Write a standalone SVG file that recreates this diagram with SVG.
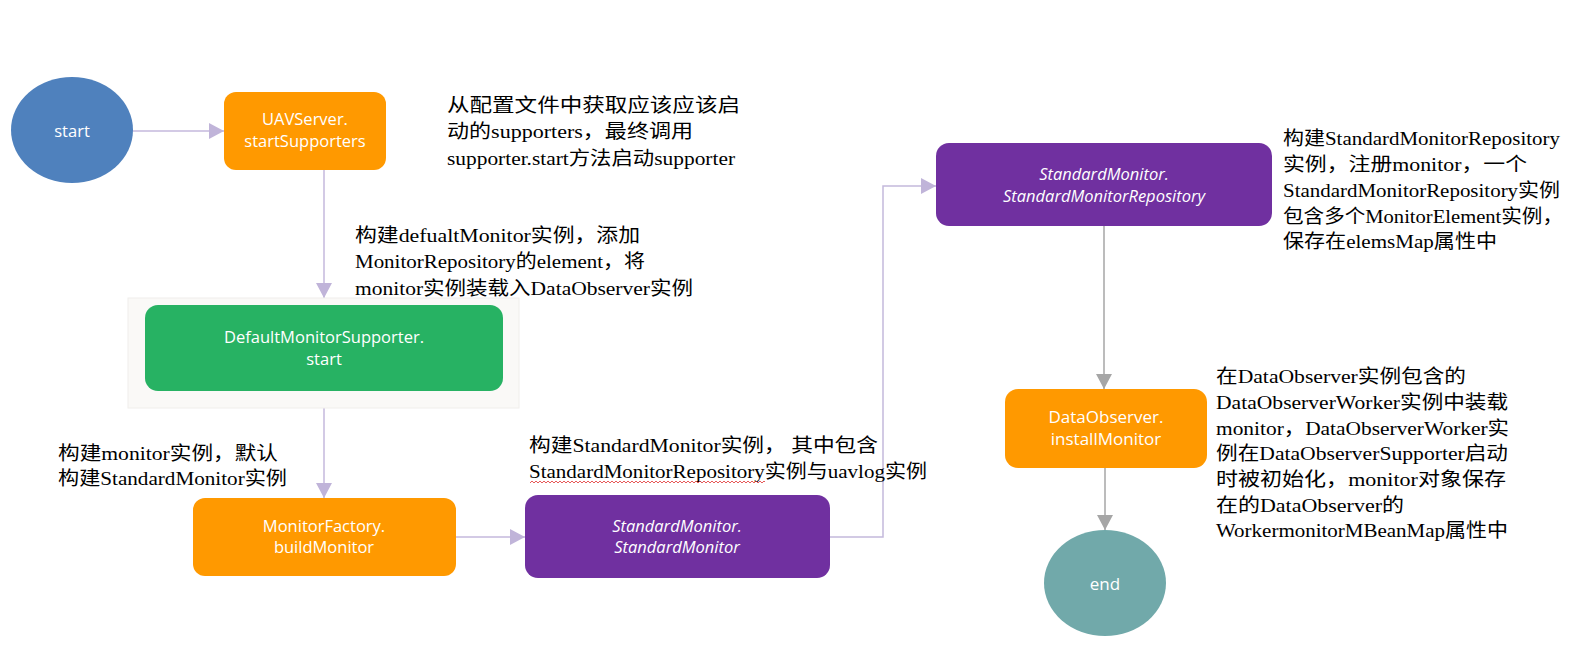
<svg xmlns="http://www.w3.org/2000/svg" width="1570" height="656" viewBox="0 0 1570 656">
<defs>
<style>
.node{font-family:"Open Sans","Liberation Sans",sans-serif;font-size:16.5px;fill:#ffffff;text-anchor:middle}
.it{font-style:italic}
.lbl{font-family:"Liberation Serif","Noto Sans CJK SC",serif;font-size:19px;fill:#000000}
.cp{fill:none;stroke:#c4b9dc;stroke-width:1.5}
.cg{fill:none;stroke:#a6a6a6;stroke-width:1.5}
</style>
<marker id="ap" markerUnits="userSpaceOnUse" markerWidth="16" markerHeight="16" refX="15" refY="8" orient="auto">
<path d="M0,0 L15,8 L0,16 Z" fill="#c0b4d9"/>
</marker>
<marker id="ag" markerUnits="userSpaceOnUse" markerWidth="16" markerHeight="16" refX="15" refY="8" orient="auto">
<path d="M0,0 L15,8 L0,16 Z" fill="#a6a6a6"/>
</marker>
<pattern id="wavy" x="530" y="480" width="4" height="4" patternUnits="userSpaceOnUse">
<polyline points="0,3 2,1 4,3" fill="none" stroke="#e03030" stroke-width="0.8"/>
</pattern>
</defs>
<rect width="1570" height="656" fill="#ffffff"/>

<g id="connectors">
<line class="cp" x1="133" y1="131" x2="224" y2="131" marker-end="url(#ap)"/>
<line class="cp" x1="324" y1="170" x2="324" y2="298" marker-end="url(#ap)"/>
<line class="cp" x1="324" y1="408" x2="324" y2="498" marker-end="url(#ap)"/>
<line class="cp" x1="456" y1="537" x2="525" y2="537" marker-end="url(#ap)"/>
<polyline class="cp" points="830,537 883,537 883,186 936,186" marker-end="url(#ap)"/>
<line class="cg" x1="1104" y1="226" x2="1104" y2="389" marker-end="url(#ag)"/>
<line class="cg" x1="1105" y1="468" x2="1105" y2="530" marker-end="url(#ag)"/>
</g>

<g id="start">
<ellipse cx="72" cy="130" rx="61" ry="53" fill="#4f81bd"/>
<text class="node" x="72" y="137">start</text>
</g>

<g id="uavserver">
<rect x="224" y="92" width="162" height="78" rx="12" fill="#ff9900"/>
<text class="node" x="305" y="125">UAVServer.</text>
<text class="node" x="305" y="147">startSupporters</text>
</g>

<g id="default-container">
<rect x="128" y="298" width="391" height="110" fill="#faf9f7" stroke="#f0eeeb" stroke-width="1"/>
</g>

<g id="defaultmonitorsupporter">
<rect x="145" y="305" width="358" height="86" rx="13" fill="#27b263"/>
<text class="node" x="324" y="343">DefaultMonitorSupporter.</text>
<text class="node" x="324" y="365">start</text>
</g>

<g id="monitorfactory">
<rect x="193" y="498" width="263" height="78" rx="12" fill="#ff9900"/>
<text class="node" x="324" y="532">MonitorFactory.</text>
<text class="node" x="324" y="553">buildMonitor</text>
</g>

<g id="standardmonitor">
<rect x="525" y="495" width="305" height="83" rx="13" fill="#7030a0"/>
<text class="node it" x="677" y="532">StandardMonitor.</text>
<text class="node it" x="677" y="553">StandardMonitor</text>
</g>

<g id="standardmonitorrepository">
<rect x="936" y="143" width="336" height="83" rx="13" fill="#7030a0"/>
<text class="node it" x="1104" y="180">StandardMonitor.</text>
<text class="node it" x="1104" y="202">StandardMonitorRepository</text>
</g>

<g id="dataobserver">
<rect x="1005" y="389" width="202" height="79" rx="13" fill="#ff9900"/>
<text class="node" x="1106" y="423" style="font-size:17px">DataObserver.</text>
<text class="node" x="1106" y="445" style="font-size:17px">installMonitor</text>
</g>

<g id="end">
<ellipse cx="1105" cy="583" rx="61" ry="53" fill="#71a9aa"/>
<text class="node" x="1105" y="590" style="font-size:17px">end</text>
</g>

<g id="label-uavserver">
<text class="lbl" x="447" y="112" textLength="293" lengthAdjust="spacingAndGlyphs">从配置文件中获取应该应该启</text>
<text class="lbl" x="447" y="138" textLength="246" lengthAdjust="spacingAndGlyphs">动的supporters，最终调用</text>
<text class="lbl" x="447" y="165" textLength="288" lengthAdjust="spacingAndGlyphs">supporter.start方法启动supporter</text>
</g>

<g id="label-default">
<text class="lbl" x="355" y="242" textLength="285" lengthAdjust="spacingAndGlyphs">构建defualtMonitor实例，添加</text>
<text class="lbl" x="355" y="268" textLength="290" lengthAdjust="spacingAndGlyphs">MonitorRepository的element，将</text>
<text class="lbl" x="355" y="295" textLength="338" lengthAdjust="spacingAndGlyphs">monitor实例装载入DataObserver实例</text>
</g>

<g id="label-monitorfactory">
<text class="lbl" x="58" y="460" textLength="220" lengthAdjust="spacingAndGlyphs">构建monitor实例，默认</text>
<text class="lbl" x="58" y="485" textLength="229" lengthAdjust="spacingAndGlyphs">构建StandardMonitor实例</text>
</g>

<g id="label-standardmonitor">
<text class="lbl" x="529" y="452" textLength="349" lengthAdjust="spacingAndGlyphs">构建StandardMonitor实例， 其中包含</text>
<text class="lbl" x="529" y="478" textLength="398" lengthAdjust="spacingAndGlyphs">StandardMonitorRepository实例与uavlog实例</text>
<rect x="530" y="480" width="235" height="4" fill="url(#wavy)"/>
</g>

<g id="label-repository">
<text class="lbl" x="1283" y="145" textLength="277" lengthAdjust="spacingAndGlyphs">构建StandardMonitorRepository</text>
<text class="lbl" x="1283" y="171" textLength="244" lengthAdjust="spacingAndGlyphs">实例，注册monitor，一个</text>
<text class="lbl" x="1283" y="197" textLength="277" lengthAdjust="spacingAndGlyphs">StandardMonitorRepository实例</text>
<text class="lbl" x="1283" y="223" textLength="280" lengthAdjust="spacingAndGlyphs">包含多个MonitorElement实例，</text>
<text class="lbl" x="1283" y="248" textLength="214" lengthAdjust="spacingAndGlyphs">保存在elemsMap属性中</text>
</g>

<g id="label-dataobserver">
<text class="lbl" x="1216" y="383" textLength="250" lengthAdjust="spacingAndGlyphs">在DataObserver实例包含的</text>
<text class="lbl" x="1216" y="409" textLength="292" lengthAdjust="spacingAndGlyphs">DataObserverWorker实例中装载</text>
<text class="lbl" x="1216" y="435" textLength="293" lengthAdjust="spacingAndGlyphs">monitor，DataObserverWorker实</text>
<text class="lbl" x="1216" y="460" textLength="292" lengthAdjust="spacingAndGlyphs">例在DataObserverSupporter启动</text>
<text class="lbl" x="1216" y="486" textLength="290" lengthAdjust="spacingAndGlyphs">时被初始化，monitor对象保存</text>
<text class="lbl" x="1216" y="512" textLength="188" lengthAdjust="spacingAndGlyphs">在的DataObserver的</text>
<text class="lbl" x="1216" y="537" textLength="292" lengthAdjust="spacingAndGlyphs">WorkermonitorMBeanMap属性中</text>
</g>
</svg>
